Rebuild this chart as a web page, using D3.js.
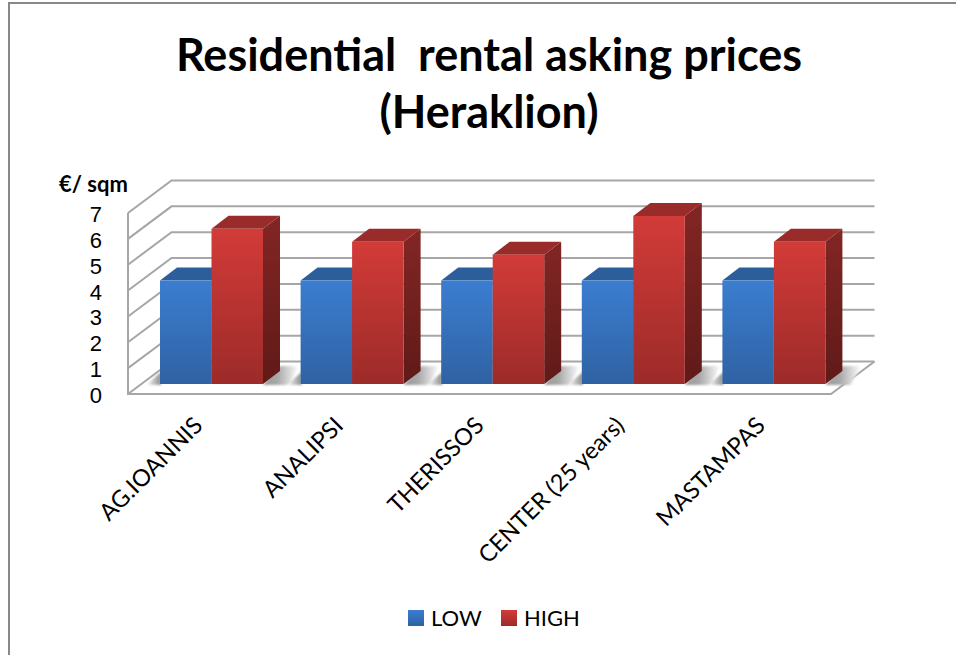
<!DOCTYPE html>
<html>
<head>
<meta charset="utf-8">
<script src="https://cdn.jsdelivr.net/npm/d3@7"></script>
<style>
  html, body { margin: 0; padding: 0; background: #fff; overflow: hidden; }
  svg { display: block; }
  text { font-family: Lato, "Open Sans", sans-serif; fill: #000; }
  .tick-label { font-family: "Liberation Sans", Lato, sans-serif; }
</style>
</head>
<body>
<div id="graph"></div>
<script>
const categories = ['AG.IOANNIS', 'ANALIPSI', 'THERISSOS', 'CENTER (25 years)', 'MASTAMPAS'];
const seriesNames = ['LOW', 'HIGH'];
const low = [4, 4, 4, 4, 4];
const high = [6, 5.5, 5, 6.5, 5.5];
const yTicks = [0, 1, 2, 3, 4, 5, 6, 7];
const titleLines = ['Residential  rental asking prices', '(Heraklion)'];
const yTitle = '€/ sqm';

const width = 956, height = 655;
// depth of the floor and of one bar, as the picture's oblique projection
const wallDx = 43.5, wallDy = 32.5, barDx = 17, barDy = 13;
const barFrontDrop = 10;

const svg = d3.select('#graph').append('svg')
  .attr('width', width)
  .attr('height', height);

// frame, only its top and left edges are in the picture
svg.append('path')
  .attr('d', `M9,${height}V3H${width}`)
  .attr('fill', 'none').attr('stroke', '#888').attr('stroke-width', 2);

const defs = svg.append('defs');
const gradient = (id, stops, horizontal) => {
  const g = defs.append('linearGradient').attr('id', id)
    .attr('x1', 0).attr('y1', 0)
    .attr('x2', horizontal ? 1 : 0).attr('y2', horizontal ? 0 : 1);
  stops.forEach(s => g.append('stop').attr('offset', s[0]).attr('stop-color', s[1]));
};
gradient('lowFront', [[0, '#3b7dd0'], [1, '#2f62a3']]);
gradient('highFront', [[0, '#d23b38'], [1, '#9c2b29']]);
gradient('highSide', [[0, '#832624'], [1, '#5f1a18']]);
gradient('shadowRight', [[0, '#999999'], [0.4, '#a8a8a8'], [1, '#ffffff']], true);
gradient('shadowLeft', [[0, '#ffffff'], [1, '#8c8c8c']], true);
defs.append('filter').attr('id', 'soft')
  .attr('x', '-20%').attr('y', '-20%').attr('width', '140%').attr('height', '140%')
  .append('feGaussianBlur').attr('stdDeviation', 1);

const x = d3.scaleBand().domain(categories).range([128, 831]);
const xSeries = d3.scaleBand().domain(seriesNames).range([32, 135]);
const y = d3.scaleLinear().domain([0, 7]).range([394, 213]);
const y0 = y(0);
const xLeft = x.range()[0], xRight = x.range()[1];

// gridlines run up the side wall and along the back wall
const grid = svg.append('g').attr('fill', 'none').attr('stroke', '#a6a6a6').attr('stroke-width', 2);
yTicks.forEach(t => {
  grid.append('path').attr('d',
    `M${xLeft},${y(t)}L${xLeft + wallDx},${y(t) - wallDy}L${xRight + wallDx},${y(t) - wallDy}`);
});
// floor outline and left edge
grid.append('path').attr('d',
  `M${xLeft},${y(7)}L${xLeft},${y0}L${xRight},${y0}L${xRight + wallDx},${y0 - wallDy}`);

const rows = categories.map((c, i) => ({ c, low: low[i], high: high[i] }));
const barBottom = y0 - barFrontDrop;
const barTop = v => y(v) - barFrontDrop;

// floor shadows, fading away on both sides of each pair of bars
const shadows = svg.append('g').attr('filter', 'url(#soft)');
shadows.selectAll('path.right').data(rows).join('path')
  .attr('class', 'right')
  .attr('fill', 'url(#shadowRight)')
  .attr('d', d => {
    const r = x(d.c) + xSeries('HIGH') + xSeries.bandwidth();
    return `M${r},${barBottom + 1}L${r + 25},${barBottom + 1}L${r + 36},${barBottom - 18}L${r + barDx},${barBottom - 18}Z`;
  });
shadows.selectAll('path.left').data(rows).join('path')
  .attr('class', 'left')
  .attr('fill', 'url(#shadowLeft)')
  .attr('d', d => {
    const l = x(d.c) + xSeries('LOW');
    return `M${l - 14},${barBottom + 1}L${l + 1},${barBottom + 1}L${l + 1},${barBottom - 12}Z`;
  });

// bars are drawn low first, so the high bar covers the low bar's depth
const drawBar = (g, left, v, name) => {
  const w = xSeries.bandwidth();
  const top = barTop(v);
  g.append('path')
    .attr('d', `M${left + w},${top}L${left + w + barDx},${top - barDy}L${left + w + barDx},${barBottom - barDy}L${left + w},${barBottom}Z`)
    .attr('fill', name === 'LOW' ? '#2b5c99' : 'url(#highSide)');
  g.append('path')
    .attr('d', `M${left},${top}L${left + barDx},${top - barDy}L${left + w + barDx},${top - barDy}L${left + w},${top}Z`)
    .attr('fill', name === 'LOW' ? '#2c5e9c' : '#992c2a');
  g.append('rect')
    .attr('x', left).attr('y', top)
    .attr('width', w).attr('height', barBottom - top)
    .attr('fill', name === 'LOW' ? 'url(#lowFront)' : 'url(#highFront)');
};
const bars = svg.append('g');
rows.forEach(d => {
  const g = bars.append('g');
  drawBar(g, x(d.c) + xSeries('LOW'), d.low, 'LOW');
  drawBar(g, x(d.c) + xSeries('HIGH'), d.high, 'HIGH');
});

// y axis labels
svg.append('g').selectAll('text').data(yTicks).join('text')
  .attr('class', 'tick-label')
  .attr('x', 102)
  .attr('y', d => y(d) + 9)
  .attr('text-anchor', 'end')
  .attr('font-size', 22)
  .text(d => d);

svg.append('text')
  .attr('x', 59).attr('y', 192)
  .attr('font-size', 22).attr('font-weight', 700)
  .text(yTitle);

// category labels
svg.append('g').selectAll('text').data(categories).join('text')
  .attr('transform', d => `translate(${x(d) + 76},${427}) rotate(-45)`)
  .attr('text-anchor', 'end')
  .attr('font-size', 23.5)
  .text(d => d);

// title
svg.append('g').selectAll('text').data(titleLines).join('text')
  .attr('x', 489)
  .attr('y', (d, i) => 71 + i * 57)
  .attr('text-anchor', 'middle')
  .attr('font-size', 45).attr('font-weight', 700)
  .style('white-space', 'pre')
  .text(d => d);

// legend
const legendX = d3.scaleOrdinal().domain(seriesNames).range([408, 501]);
const legend = svg.append('g').selectAll('g').data(seriesNames).join('g')
  .attr('transform', d => `translate(${legendX(d)},610)`);
legend.append('rect')
  .attr('width', 16).attr('height', 16)
  .attr('fill', d => d === 'LOW' ? 'url(#lowFront)' : 'url(#highFront)');
legend.append('text')
  .attr('x', 23).attr('y', 16)
  .attr('font-size', 22)
  .text(d => d);
</script>
</body>
</html>
